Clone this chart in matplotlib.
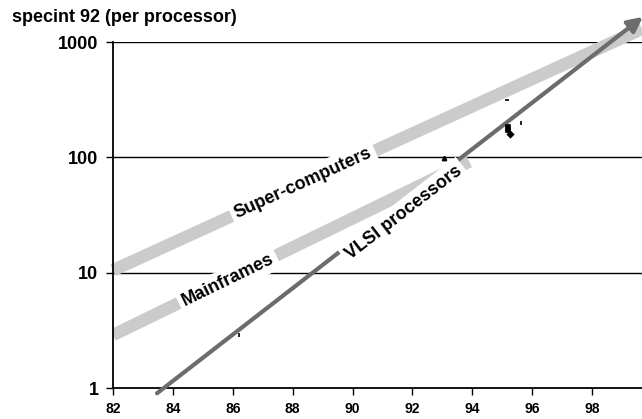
import numpy as np
from matplotlib import pyplot as plt

plt.rcParams["font.family"] = ["Liberation Sans", "DejaVu Sans"]
plt.rcParams["font.weight"] = "bold"

# trend lines: (year, specint) endpoints
super_years = [82, 99.67]
super_vals = [10.5, 1300]
main_years = [82, 93.9]
main_vals = [2.88, 92]
vlsi_years = [83.47, 99.7]
vlsi_vals = [0.9, 1650]

# labels: text, centre (year, specint)
label_names = ["Super-computers", "Mainframes", "VLSI processors"]
label_years = [88.35, 85.84, 91.72]
label_vals = [60, 8.6, 33]

# scattered small marks
mark_years = [86.2, 93.07, 95.2, 95.2, 95.25, 95.63, 95.16]
mark_vals = [2.9, 99, 185, 172, 158, 200, 315]
mark_shapes = ["|", "^", "s", "s", "D", "|", "_"]

x_ticks = [82, 84, 86, 88, 90, 92, 94, 96, 98]
y_ticks = [1, 10, 100, 1000]
y_ticklabels = ["1", "10", "100", "1000"]

light = "#cbcbcb"
dark = "#6c6c6c"

fig = plt.figure(figsize=(6.42, 4.19), dpi=100)
ax = fig.add_axes([113 / 642, 1 - 388 / 419, 1 - 113 / 642, (388 - 42) / 419])
ax.set_yscale("log")
ax.set_xlim(82, 99.67)
ax.set_ylim(1, 1000)

for y in [10, 100, 1000]:
    ax.axhline(y, color="black", lw=1.0, zorder=0)

ax.plot(super_years, super_vals, color=light, lw=9, solid_capstyle="butt", zorder=2, clip_on=False)
ax.plot(main_years, main_vals, color=light, lw=9, solid_capstyle="butt", zorder=2)
ax.annotate("", xy=(vlsi_years[1], vlsi_vals[1]), xytext=(vlsi_years[0], vlsi_vals[0]),
            arrowprops=dict(arrowstyle="-|>", color=dark, lw=3, mutation_scale=22, shrinkA=0, shrinkB=0),
            annotation_clip=False, zorder=3)

for yr, v, m in zip(mark_years, mark_vals, mark_shapes):
    ax.plot(yr, v, marker=m, color="black", ms=3, mew=1.2, zorder=4)


def screen_angle(years, vals):
    p0 = ax.transData.transform((years[0], vals[0]))
    p1 = ax.transData.transform((years[1], vals[1]))
    return np.degrees(np.arctan2(p1[1] - p0[1], p1[0] - p0[0]))


series = [(super_years, super_vals), (main_years, main_vals), (vlsi_years, vlsi_vals)]
for name, yr, v, (years, vals) in zip(label_names, label_years, label_vals, series):
    ax.text(yr, v, name, rotation=screen_angle(years, vals),
            rotation_mode="anchor", ha="center", va="center", fontsize=13, fontweight="bold",
            bbox=dict(facecolor="white", edgecolor="none", pad=3), zorder=5)

ax.set_xticks(x_ticks)
ax.set_xticklabels([str(x) for x in x_ticks], fontsize=10, fontweight="bold")
ax.set_yticks(y_ticks)
ax.set_yticklabels(y_ticklabels, fontsize=13, fontweight="bold")
ax.yaxis.set_minor_locator(plt.NullLocator())
ax.tick_params(axis="x", direction="out", length=5, width=1, pad=5)
ax.tick_params(axis="y", direction="out", length=5, width=1, pad=5.5)

for side in ["top", "right"]:
    ax.spines[side].set_visible(False)
ax.spines["left"].set_linewidth(1.3)
ax.spines["bottom"].set_linewidth(1.3)

fig.text(12 / 642, 1 - 18 / 419, "specint 92 (per processor)", fontsize=13, fontweight="bold", va="center")

plt.savefig("out.png", dpi=100)
